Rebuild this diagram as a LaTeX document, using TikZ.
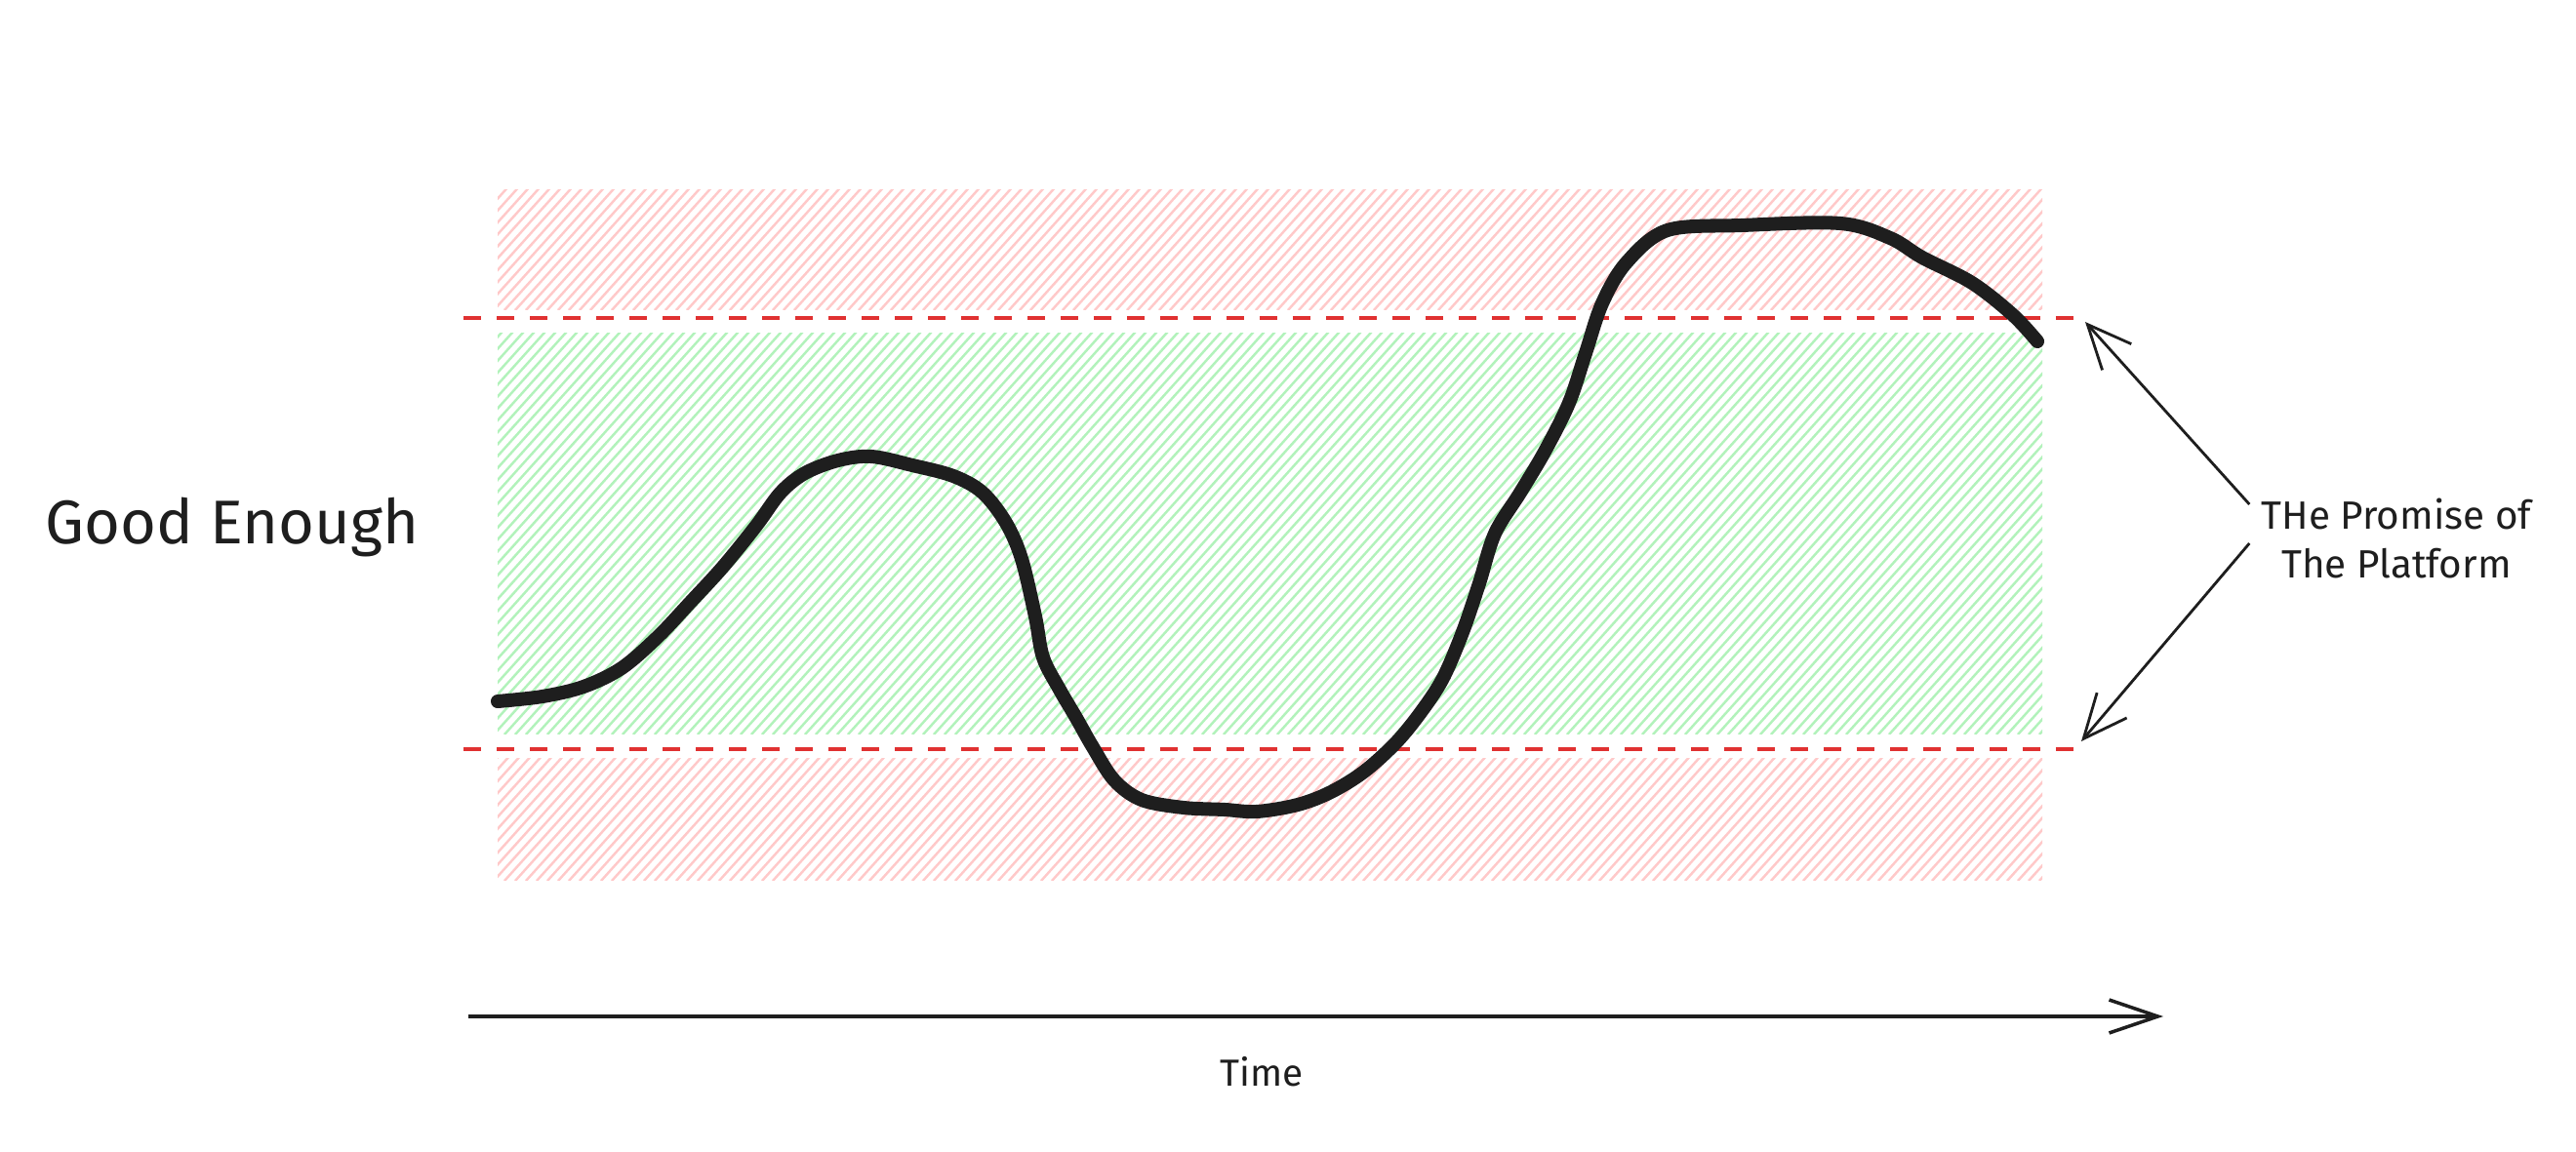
\documentclass[tikz,border=0pt]{standalone}
\usepackage{fontspec}
\setmainfont{Fira Sans}
\usepackage{xcolor}
\usetikzlibrary{arrows.meta,positioning}

\definecolor{hatchred}{HTML}{FFC9C9}
\definecolor{hatchgreen}{HTML}{B2F2BB}
\definecolor{limitred}{HTML}{E03131}
\definecolor{ink}{HTML}{1E1E1E}

\begin{document}
\begin{tikzpicture}[
  hatch/.style={line width=0.7pt},
  limit/.style={draw=limitred,line width=1pt,dash pattern=on 0.18cm off 0.16cm},
  perf/.style={draw=ink,line width=4pt,line cap=round,line join=round},
  pointer/.style={draw=ink,line width=0.8pt,-{Straight Barb[length=4.5mm,width=4mm]}},
  label/.style={text=ink}]
  \useasboundingbox (0,0) rectangle (26.4,11.8);

  \foreach \ya/\yb/\col in {8.62/9.85/hatchred,4.27/8.38/hatchgreen,2.77/4.02/hatchred}{
    \begin{scope}
      \clip (5.10,\ya) rectangle (20.93,\yb);
      \foreach \i in {0,...,185}
        \draw[hatch,\col] ({1.10+\i*0.11},\ya) -- ++(48:8);
    \end{scope}
  }

  \coordinate (hiL) at (4.75,8.54);
  \coordinate (hiR) at (21.40,8.54);
  \coordinate (loL) at (4.75,4.12);
  \coordinate (loR) at (21.40,4.12);
  \draw[limit] (hiL) -- (hiR);
  \draw[limit] (loL) -- (loR);

  \draw[perf] plot[smooth,tension=0.55] coordinates {
    (5.10,4.61) (5.56,4.66) (5.98,4.76) (6.37,4.95) (6.74,5.27) (7.07,5.62)
    (7.41,5.99) (7.75,6.41) (8.00,6.75) (8.25,6.95) (8.59,7.08) (8.93,7.12)
    (9.35,7.03) (9.77,6.92) (10.07,6.75) (10.31,6.44) (10.47,6.07) (10.61,5.48)
    (10.69,5.06) (10.86,4.73) (11.03,4.44) (11.20,4.14) (11.42,3.80) (11.70,3.60)
    (12.13,3.52) (12.55,3.50) (12.88,3.48) (13.30,3.55) (13.64,3.68) (13.98,3.89)
    (14.31,4.19) (14.57,4.51) (14.79,4.85) (14.99,5.32) (15.16,5.82) (15.32,6.33)
    (15.58,6.75) (15.83,7.17) (16.08,7.67) (16.25,8.18) (16.42,8.69) (16.67,9.11)
    (17.09,9.44) (17.85,9.49) (18.86,9.51) (19.37,9.36) (19.70,9.16) (20.21,8.90)
    (20.63,8.57) (20.88,8.30)};

  \node[label,font=\fontsize{18}{21}\selectfont,anchor=base] (good) at (2.38,6.22) {Good Enough};
  \node[label,font=\fontsize{11.5}{14.2}\selectfont,align=center] (promise) at (24.56,6.28)
    {THe Promise of\\The Platform};
  \coordinate (hiTip) at (21.37,8.50);
  \coordinate (loTip) at (21.33,4.20);
  \draw[pointer] ([yshift=3.5mm]promise.west) -- (hiTip);
  \draw[pointer] ([yshift=-0.5mm]promise.west) -- (loTip);

  \coordinate (t0) at (4.80,1.38);
  \coordinate (t1) at (22.17,1.38);
  \draw[draw=ink,line width=1pt,-{Straight Barb[length=5mm,width=3.4mm]}] (t0) -- (t1);
  \node[label,font=\fontsize{11}{13}\selectfont,anchor=base] (time) at (12.93,0.67) {Time};
\end{tikzpicture}
\end{document}
